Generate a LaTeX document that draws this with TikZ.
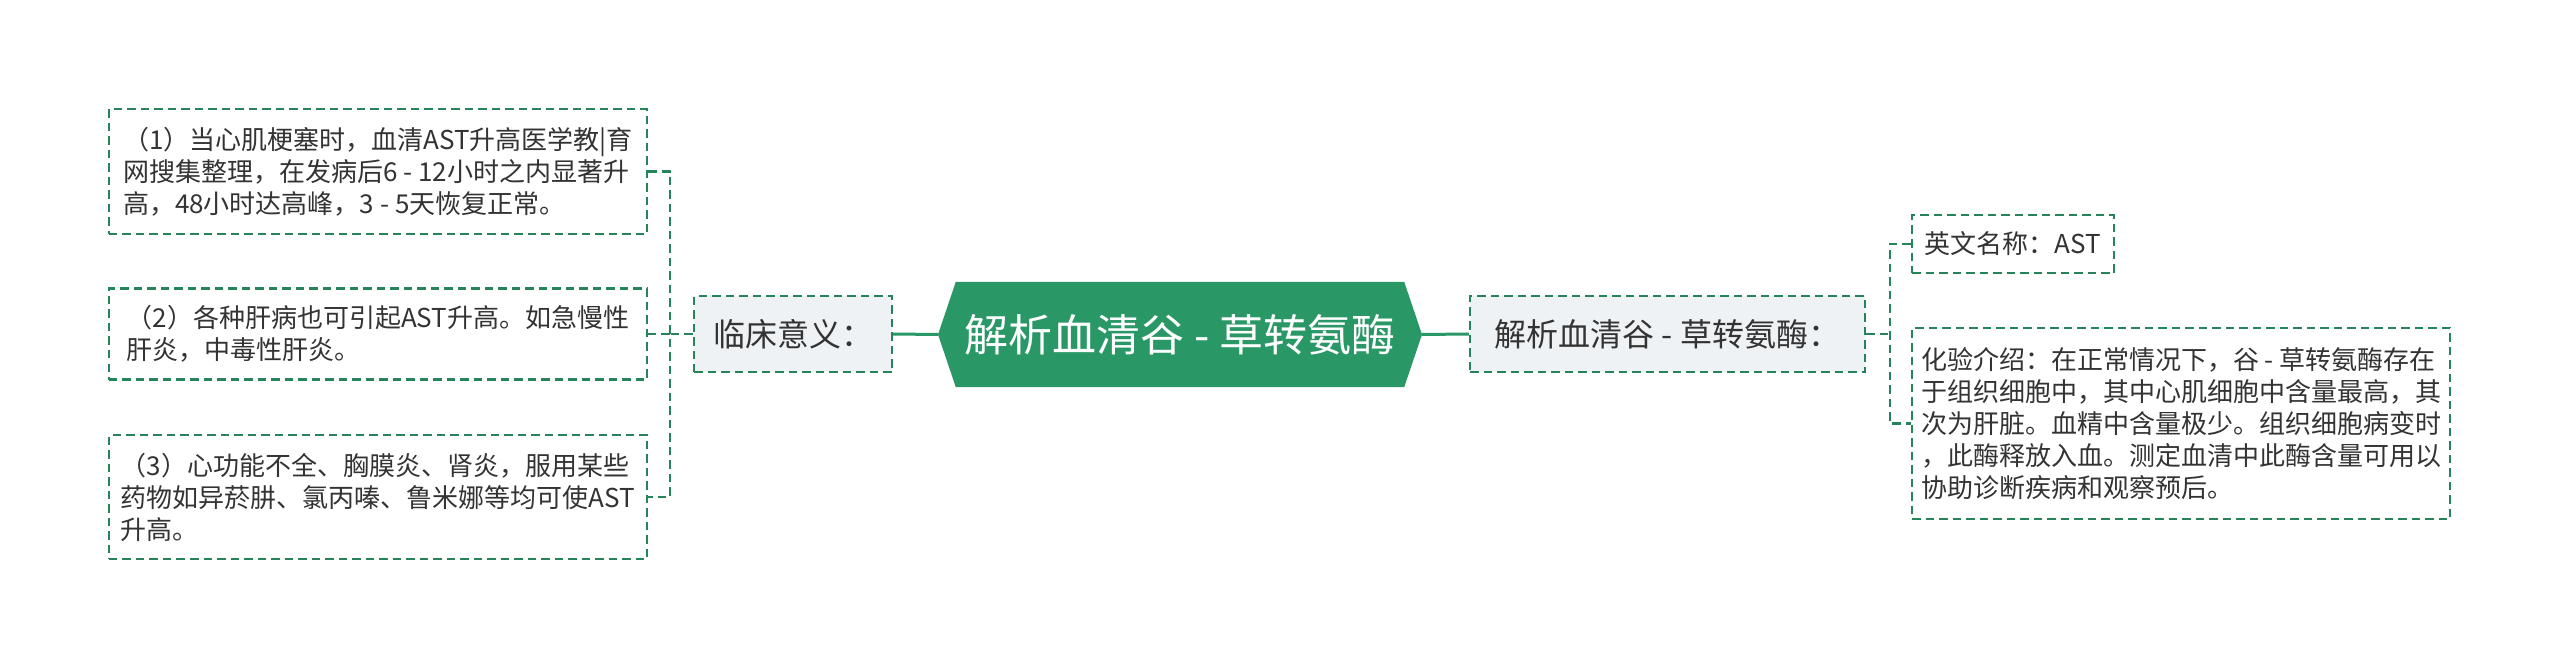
\documentclass[tikz,border=0pt]{standalone}
\usepackage{fontspec}
\setmainfont{Noto Sans CJK SC}
\usetikzlibrary{backgrounds,calc}
\definecolor{hexgreen}{HTML}{2A9866}
\definecolor{bordergreen}{HTML}{25845A}
\definecolor{lvfill}{HTML}{EEF2F5}
\definecolor{txt}{HTML}{333333}
\begin{document}
\begin{tikzpicture}[x=1bp,y=-1bp,
  box/.style={draw=bordergreen, line width=2.2bp, dash pattern=on 8.5bp off 5bp, inner sep=0pt, align=left, text=txt},
  leaf/.style={box, fill=white, font=\fontsize{26bp}{32bp}\selectfont},
  lvone/.style={box, fill=lvfill, font=\fontsize{32bp}{38bp}\selectfont},
  rootnode/.style={inner sep=0pt, text=white, font=\fontsize{44bp}{50bp}\selectfont},
  conn/.style={draw=hexgreen, line width=3bp},
  dconn/.style={draw=bordergreen, line width=2.2bp, dash pattern=on 8.5bp off 5bp}]
\useasboundingbox (0,0) rectangle (2560,669);

% left leaves
\node[leaf, minimum width=538bp, minimum height=125bp] (c1) at (378,171.5)
  {（1）当心肌梗塞时，血清AST升高医学教|育\\网搜集整理，在发病后6 - 12小时之内显著升\\高，48小时达高峰，3 - 5天恢复正常。};
\node[leaf, minimum width=538bp, minimum height=91bp] (c2) at (378,334)
  {（2）各种肝病也可引起AST升高。如急慢性\\肝炎，中毒性肝炎。};
\node[leaf, minimum width=538bp, minimum height=124bp] (c3) at (378,497)
  {（3）心功能不全、胸膜炎、肾炎，服用某些\\药物如异菸肼、氯丙嗪、鲁米娜等均可使AST\\升高。};

% level one
\node[lvone, minimum width=198bp, minimum height=76bp] (lin) at (793,334) {临床意义：};
\node[lvone, minimum width=395bp, minimum height=76bp] (rb) at (1667.5,334) {解析血清谷 - 草转氨酶：};

% root
\node[rootnode, minimum width=448bp, minimum height=105bp] (root) at (1180,334.5) {解析血清谷 - 草转氨酶};
\coordinate (rootL) at (938,334.5);
\coordinate (rootR) at (1422,334.5);

% right leaves
\node[leaf, minimum width=202bp, minimum height=58bp] (ast) at (2013,244) {英文名称：AST};
\node[leaf, minimum width=538bp, minimum height=191bp] (intro) at (2181,423.5)
  {化验介绍：在正常情况下，谷 - 草转氨酶存在\\于组织细胞中，其中心肌细胞中含量最高，其\\次为肝脏。血精中含量极少。组织细胞病变时\\，此酶释放入血。测定血清中此酶含量可用以\\协助诊断疾病和观察预后。};

\begin{scope}[on background layer]
  \fill[white] (0,0) rectangle (2560,669);
  \fill[hexgreen] (root.north west) -- (root.north east) -- (rootR) -- (root.south east) -- (root.south west) -- (rootL) -- cycle;
\end{scope}

% connectors
\draw[conn] (rootL) -- (lin.east);
\draw[conn] (rootR) -- (rb.west);
\draw[dconn] (lin.west) -- ++(-23,0) coordinate (lb);
\draw[dconn] (c1.east) -| (lb) |- (c3.east);
\draw[dconn] (lb) -- (c2.east);
\draw[dconn] (rb.east) -- ++(24,0) coordinate (rbk);
\draw[dconn] (ast.west) -| (rbk) |- (intro.west);
\end{tikzpicture}
\end{document}
